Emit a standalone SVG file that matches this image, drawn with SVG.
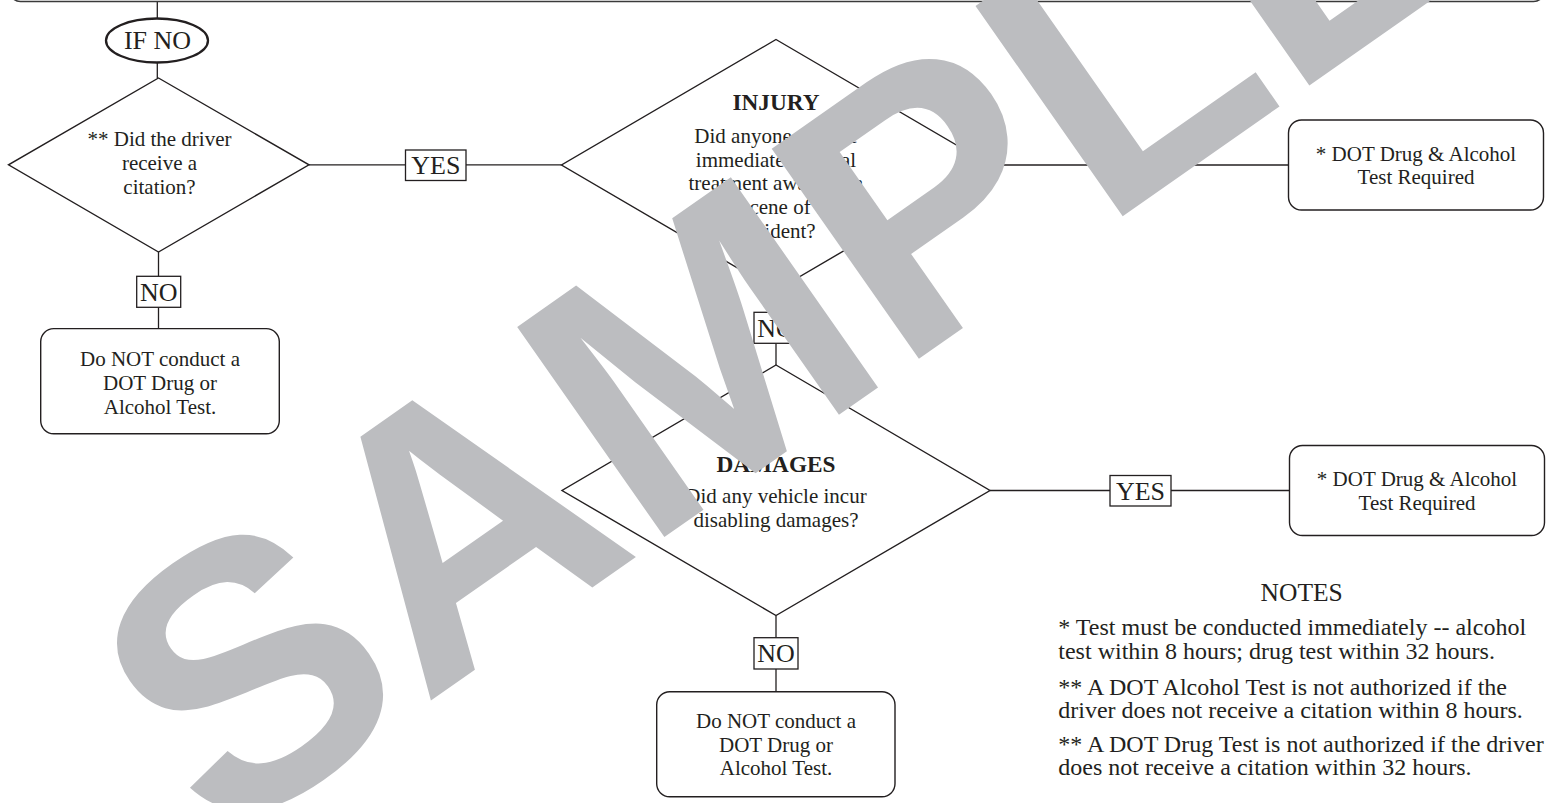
<svg xmlns="http://www.w3.org/2000/svg" width="1551" height="803" viewBox="0 0 1551 803">
<style>
.ln{stroke:#231f20;stroke-width:1.3;fill:none}
.shape{fill:#fff;stroke:#231f20;stroke-width:1.4}
.lbl{fill:#fff;stroke:#231f20;stroke-width:1.3}
.t{font-family:"Liberation Serif","Times New Roman",serif;font-size:21px;fill:#231f20;text-anchor:middle}
.big{font-size:26px}
.bold{font-weight:bold;font-size:23.3px}
.note{font-size:24px;text-anchor:start}
.wm{font-family:"Liberation Sans",Arial,sans-serif;font-weight:bold;font-size:373px;fill:#bcbdc0}
</style>
<rect width="1551" height="803" fill="#fff"/>
<g id="connectors">
<line class="ln" x1="157.3" y1="1.5" x2="157.3" y2="18.5"/>
<line class="ln" x1="157.3" y1="62.5" x2="157.3" y2="78"/>
<line class="ln" x1="309" y1="164.8" x2="405.5" y2="164.8"/>
<line class="ln" x1="466" y1="164.8" x2="561.5" y2="164.8"/>
<line class="ln" x1="990.5" y1="165" x2="1288.5" y2="165"/>
<line class="ln" x1="158.5" y1="252" x2="158.5" y2="276.3"/>
<line class="ln" x1="158.5" y1="307.4" x2="158.5" y2="328.6"/>
<line class="ln" x1="776" y1="290.5" x2="776" y2="312.3"/>
<line class="ln" x1="776" y1="343.3" x2="776" y2="365"/>
<line class="ln" x1="990" y1="490.5" x2="1110" y2="490.5"/>
<line class="ln" x1="1171" y1="490.5" x2="1289.5" y2="490.5"/>
<line class="ln" x1="776" y1="615.5" x2="776" y2="637.7"/>
<line class="ln" x1="776" y1="669" x2="776" y2="691.7"/>
</g>
<g id="top-box">
<rect x="9.5" y="-40" width="1535" height="41.5" rx="11" fill="none" stroke="#3a3a3a" stroke-width="1.5"/>
</g>
<g id="if-no">
<ellipse cx="157" cy="40.5" rx="51" ry="22" fill="#fff" stroke="#231f20" stroke-width="2.3"/>
<text class="t big" x="157.5" y="49.3">IF NO</text>
</g>
<g id="citation">
<polygon class="shape" points="158.5,78 309,164.8 158.5,252 8.5,164.8"/>
<text class="t" x="159.5" y="145.7">** Did the driver</text>
<text class="t" x="159.5" y="170">receive a</text>
<text class="t" x="159.5" y="194.3">citation?</text>
</g>
<g id="yes1">
<rect class="lbl" x="405.5" y="150" width="60.5" height="30.5"/>
<text class="t big" x="435.8" y="174.2">YES</text>
</g>
<g id="no1">
<rect class="lbl" x="136.7" y="276.3" width="44" height="31"/>
<text class="t big" x="158.7" y="300.6">NO</text>
</g>
<g id="no-test-1">
<rect class="shape" x="40.7" y="328.6" width="238.6" height="105.2" rx="13"/>
<text class="t" x="160" y="365.6">Do NOT conduct a</text>
<text class="t" x="160" y="389.8">DOT Drug or</text>
<text class="t" x="160" y="414">Alcohol Test.</text>
</g>
<g id="injury">
<polygon class="shape" points="776,39.5 990.5,165 776,290.5 561.5,165"/>
<text class="t bold" x="776" y="110">INJURY</text>
<text class="t" x="776" y="142.7">Did anyone receive</text>
<text class="t" x="776" y="166.5">immediate medical</text>
<text class="t" x="776" y="190.4">treatment away from</text>
<text class="t" x="776" y="214.2">the scene of the</text>
<text class="t" x="776" y="238">accident?</text>
</g>
<g id="test-required-1">
<rect class="shape" x="1288.5" y="120" width="255" height="90" rx="13"/>
<text class="t" x="1416" y="160.5">* DOT Drug &amp; Alcohol</text>
<text class="t" x="1416" y="184">Test Required</text>
</g>
<g id="no2">
<rect class="lbl" x="754" y="312.3" width="44" height="31"/>
<text class="t big" x="776" y="336.6">NO</text>
</g>
<g id="damages">
<polygon class="shape" points="776,365 990,490.5 776,615.5 562,490.5"/>
<text class="t bold" x="776" y="471.7">DAMAGES</text>
<text class="t" x="776" y="503.3">Did any vehicle incur</text>
<text class="t" x="776" y="526.7">disabling damages?</text>
</g>
<g id="yes2">
<rect class="lbl" x="1110" y="475.5" width="61" height="30.5"/>
<text class="t big" x="1140.5" y="499.6">YES</text>
</g>
<g id="test-required-2">
<rect class="shape" x="1289.5" y="445.5" width="255" height="90" rx="13"/>
<text class="t" x="1417" y="486">* DOT Drug &amp; Alcohol</text>
<text class="t" x="1417" y="510">Test Required</text>
</g>
<g id="no3">
<rect class="lbl" x="754" y="637.7" width="44" height="31.3"/>
<text class="t big" x="776" y="662">NO</text>
</g>
<g id="no-test-2">
<rect class="shape" x="656.7" y="691.7" width="238.3" height="105" rx="13"/>
<text class="t" x="776" y="728.3">Do NOT conduct a</text>
<text class="t" x="776" y="751.7">DOT Drug or</text>
<text class="t" x="776" y="775">Alcohol Test.</text>
</g>
<g id="notes">
<text class="t" x="1301.7" y="600.7" style="font-size:25.5px">NOTES</text>
<text class="t note" x="1058.3" y="635">* Test must be conducted immediately -- alcohol</text>
<text class="t note" x="1058.3" y="659.3">test within 8 hours; drug test within 32 hours.</text>
<text class="t note" x="1058.3" y="695">** A DOT Alcohol Test is not authorized if the</text>
<text class="t note" x="1058.3" y="718.3">driver does not receive a citation within 8 hours.</text>
<text class="t note" x="1058.3" y="751.7">** A DOT Drug Test is not authorized if the driver</text>
<text class="t note" x="1058.3" y="775">does not receive a citation within 32 hours.</text>
</g>
<text class="wm" transform="translate(219.5,848.6) rotate(-35)">SAMPLE</text>
</svg>
